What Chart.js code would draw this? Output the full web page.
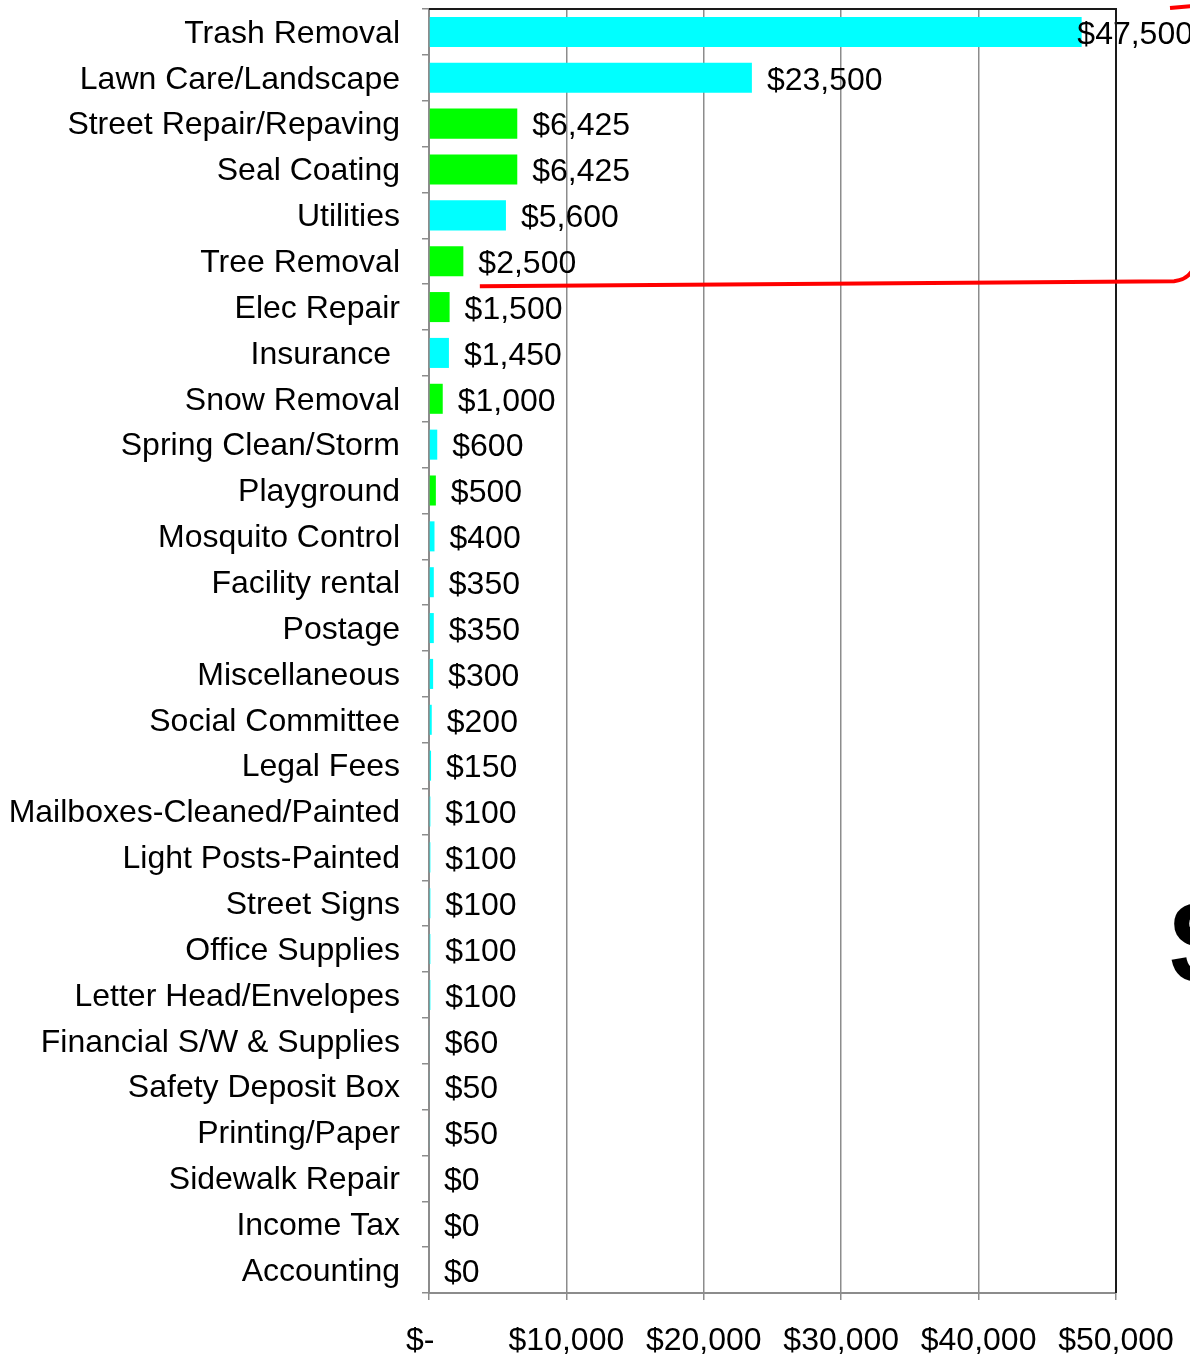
<!DOCTYPE html>
<html>
<head>
<meta charset="utf-8">
<script src="https://cdn.jsdelivr.net/npm/chart.js@4/dist/chart.umd.min.js"></script>
<style>
html,body{margin:0;padding:0;background:#fff;}
#wrap{width:1190px;height:1356px;position:relative;}
</style>
</head>
<body>
<div id="wrap"><canvas id="c" width="1190" height="1356"></canvas></div>
<script>
const categories = [
  "Trash Removal","Lawn Care/Landscape","Street Repair/Repaving","Seal Coating","Utilities",
  "Tree Removal","Elec Repair","Insurance ","Snow Removal","Spring Clean/Storm","Playground",
  "Mosquito Control","Facility rental","Postage","Miscellaneous","Social Committee","Legal Fees",
  "Mailboxes-Cleaned/Painted","Light Posts-Painted","Street Signs","Office Supplies",
  "Letter Head/Envelopes","Financial S/W & Supplies","Safety Deposit Box","Printing/Paper",
  "Sidewalk Repair","Income Tax","Accounting"
];
const amounts = [47500,23500,6425,6425,5600,2500,1500,1450,1000,600,500,400,350,350,300,200,150,100,100,100,100,100,60,50,50,0,0,0];
// G = green group, C = cyan group
const groups = ["C","C","G","G","C","G","G","C","G","C","G","C","C","C","C","C","C","C","C","C","C","C","C","C","C","C","C","C"];
const xTicks = [0,10000,20000,30000,40000,50000];
const xTickLabels = ["$-  ","$10,000","$20,000","$30,000","$40,000","$50,000"];

const FONT = '"Liberation Sans", Arial, sans-serif';
const groupColor = {C:"#00FFFF", G:"#00FF00"};

const labelPlugin = {
  id: "valueLabels",
  afterDatasetsDraw(chart) {
    const ctx = chart.ctx;
    const meta = chart.getDatasetMeta(0);
    ctx.save();
    ctx.font = "32px " + FONT;
    ctx.fillStyle = "#000";
    ctx.textBaseline = "middle";
    ctx.textAlign = "left";
    meta.data.forEach((el, i) => {
      const txt = "$" + amounts[i].toLocaleString("en-US");
      const w = ctx.measureText(txt).width;
      let x = el.x + 15;
      if (x + w > chart.width + 3) x = chart.width + 3 - w;
      ctx.fillText(txt, x, el.y + 3);
    });
    ctx.restore();
  }
};

const decoPlugin = {
  id: "deco",
  afterDraw(chart) {
    const ctx = chart.ctx;
    const a = chart.chartArea;
    const xs = chart.scales.x, ys = chart.scales.y;
    ctx.save();
    // frame top and right
    ctx.strokeStyle = "#1a1a1a";
    ctx.lineWidth = 2;
    ctx.beginPath();
    ctx.moveTo(a.left, a.top);
    ctx.lineTo(a.right, a.top);
    ctx.lineTo(a.right, a.bottom);
    ctx.stroke();
    // red annotation line
    const band = ys.getPixelForValue(1) - ys.getPixelForValue(0);
    const yb = ys.getPixelForValue(5) + band / 2 + 1;
    ctx.strokeStyle = "#FF0000";
    ctx.lineWidth = 4;
    ctx.lineCap = "butt";
    ctx.beginPath();
    ctx.moveTo(xs.getPixelForValue(3700), yb + 1);
    ctx.lineTo(1174, yb - 4);
    ctx.quadraticCurveTo(1186, yb - 5, 1192, yb - 14);
    ctx.stroke();
    ctx.beginPath();
    ctx.moveTo(1170, 8);
    ctx.lineTo(1192, 6);
    ctx.stroke();
    // partial large glyph at right edge
    ctx.fillStyle = "#000";
    ctx.font = "bold 118px " + FONT;
    ctx.textBaseline = "middle";
    ctx.textAlign = "left";
    ctx.fillText("$", 1170, 950);
    ctx.restore();
  }
};

new Chart(document.getElementById("c"), {
  type: "bar",
  data: {
    labels: categories,
    datasets: [{
      data: amounts,
      backgroundColor: groups.map(g => groupColor[g]),
      borderWidth: 0,
      categoryPercentage: 1.0,
      barPercentage: 0.655
    }]
  },
  options: {
    indexAxis: "y",
    responsive: false,
    animation: false,
    devicePixelRatio: 1,
    layout: { padding: { top: 9, right: 74, left: 0, bottom: 0 } },
    plugins: { legend: { display: false }, tooltip: { enabled: false } },
    scales: {
      x: {
        min: 0, max: 50000,
        afterBuildTicks(s) { s.ticks = xTicks.map(v => ({ value: v })); },
        afterFit(s) { s.height = 63; s.paddingLeft = 0; s.paddingRight = 0; s.paddingTop = 0; s.paddingBottom = 0; },
        grid: { color: "#8c8c8c", lineWidth: 1.5, tickLength: 7, drawTicks: true },
        border: { color: "#8c8c8c", width: 2 },
        ticks: {
          font: { family: FONT, size: 32 },
          color: "#000",
          padding: 22,
          maxRotation: 0,
          autoSkip: false,
          callback(v, i) { return xTickLabels[i]; }
        }
      },
      y: {
        afterFit(s) { s.width = 429; s.paddingLeft = 0; s.paddingRight = 0; s.paddingTop = 0; s.paddingBottom = 0; },
        grid: { color: "#8c8c8c", lineWidth: 1.5, tickLength: 7, drawOnChartArea: false, offset: true },
        border: { color: "#8c8c8c", width: 2 },
        ticks: {
          font: { family: FONT, size: 32 },
          color: "#000",
          padding: 22,
          labelOffset: 2,
          autoSkip: false
        }
      }
    }
  },
  plugins: [labelPlugin, decoPlugin]
});
</script>
</body>
</html>
